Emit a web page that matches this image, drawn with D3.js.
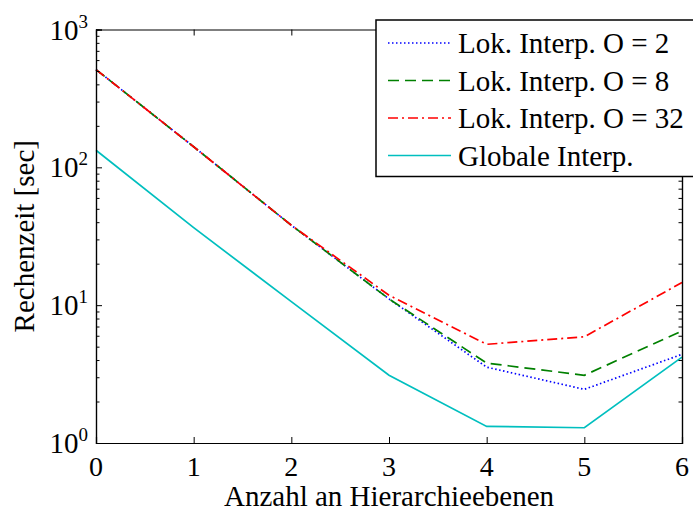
<!DOCTYPE html>
<html>
<head>
<meta charset="utf-8">
<script src="https://cdn.jsdelivr.net/npm/d3@7"></script>
<style>
  body { margin: 0; background: #fff; }
  svg { display: block; font-family: "Liberation Serif", "Times New Roman", serif; }
</style>
</head>
<body>
<div id="chart"></div>
<script>
var levels = [0, 1, 2, 3, 4, 5, 6]; // Anzahl an Hierarchieebenen
var lokO2 = [512, 141, 38, 11.1, 3.55, 2.45, 4.4];
var lokO8 = [512, 141, 38, 11.1, 3.8, 3.1, 6.5];
var lokO32 = [512, 141, 38, 11.8, 5.2, 5.9, 14.6];
var globale = [133, 36.5, 10.6, 3.1, 1.32, 1.29, 4.2];
var seriesNames = ["Lok. Interp. O = 2", "Lok. Interp. O = 8", "Lok. Interp. O = 32", "Globale Interp."];
var yTickExps = [0, 1, 2, 3];

var width = 693, height = 511;
var plotLeft = 96, plotRight = 682, plotTop = 29.5, plotBottom = 443;

var svg = d3.select("#chart").append("svg")
  .attr("width", width)
  .attr("height", height);

var x = d3.scaleLinear().domain([0, 6]).range([plotLeft, plotRight]);
var y = d3.scaleLog().domain([1, 1000]).range([plotBottom, plotTop]);

var series = [
  {name: seriesNames[0], values: lokO2, color: "#0000ff", dash: "1.5,2.5"},
  {name: seriesNames[1], values: lokO8, color: "#008000", dash: "11,6"},
  {name: seriesNames[2], values: lokO32, color: "#ff0000", dash: "10,4,2,4"},
  {name: seriesNames[3], values: globale, color: "#00bfbf", dash: null}
];

// lines
var line = d3.line()
  .x(function(d, i) { return x(levels[i]); })
  .y(function(d) { return y(d); });

svg.selectAll(".series")
  .data(series)
  .enter()
  .append("path")
  .attr("class", "series")
  .attr("d", function(s) { return line(s.values); })
  .attr("fill", "none")
  .attr("stroke", function(s) { return s.color; })
  .attr("stroke-width", 1.7)
  .attr("stroke-dasharray", function(s) { return s.dash; });

// box axes with inward ticks
var xAxisB = d3.axisBottom(x).tickValues(levels).tickSize(-6).tickFormat("");
var xAxisT = d3.axisTop(x).tickValues(levels).tickSize(-6).tickFormat("");
svg.append("g").attr("transform", "translate(0," + plotBottom + ")").call(xAxisB);
svg.append("g").attr("transform", "translate(0," + plotTop + ")").call(xAxisT);

var minorTicks = [];
for (var e = 0; e < 3; e++) {
  for (var m = 2; m <= 9; m++) minorTicks.push(m * Math.pow(10, e));
}
var majorTicks = yTickExps.map(function(p) { return Math.pow(10, p); });

svg.append("g").attr("transform", "translate(" + plotLeft + ",0)")
  .call(d3.axisLeft(y).tickValues(majorTicks).tickSize(-6).tickFormat(""));
svg.append("g").attr("transform", "translate(" + plotLeft + ",0)")
  .call(d3.axisLeft(y).tickValues(minorTicks).tickSize(-3.5).tickFormat(""));
svg.append("g").attr("transform", "translate(" + plotRight + ",0)")
  .call(d3.axisRight(y).tickValues(majorTicks).tickSize(-6).tickFormat(""));
svg.append("g").attr("transform", "translate(" + plotRight + ",0)")
  .call(d3.axisRight(y).tickValues(minorTicks).tickSize(-3.5).tickFormat(""));

svg.selectAll(".domain").attr("stroke", "#000").attr("stroke-width", 1.2);
svg.selectAll(".tick line").attr("stroke", "#000").attr("stroke-width", 1);

// x tick labels
svg.selectAll(".xlab")
  .data(levels)
  .enter()
  .append("text")
  .attr("class", "xlab")
  .attr("x", function(d) { return x(d); })
  .attr("y", 476)
  .attr("text-anchor", "middle")
  .attr("font-size", 28)
  .text(function(d) { return d; });

// y tick labels 10^n
var ylab = svg.selectAll(".ylab")
  .data(yTickExps)
  .enter()
  .append("text")
  .attr("class", "ylab")
  .attr("x", 88)
  .attr("y", function(d) { return y(Math.pow(10, d)) + 10; })
  .attr("text-anchor", "end")
  .attr("font-size", 29);
ylab.append("tspan").text("10");
ylab.append("tspan")
  .attr("font-size", 19)
  .attr("dy", -12)
  .text(function(d) { return d; });

// axis titles
svg.append("text")
  .attr("x", (plotLeft + plotRight) / 2)
  .attr("y", 506)
  .attr("text-anchor", "middle")
  .attr("font-size", 29)
  .text("Anzahl an Hierarchieebenen");

svg.append("text")
  .attr("transform", "translate(34," + ((plotTop + plotBottom) / 2) + ") rotate(-90)")
  .attr("text-anchor", "middle")
  .attr("font-size", 29)
  .text("Rechenzeit [sec]");

// legend
var legend = svg.append("g");
legend.append("rect")
  .attr("x", 376)
  .attr("y", 20)
  .attr("width", 330)
  .attr("height", 156.5)
  .attr("fill", "#fff")
  .attr("stroke", "#000")
  .attr("stroke-width", 1.5);

var rows = legend.selectAll(".row")
  .data(series)
  .enter()
  .append("g")
  .attr("class", "row")
  .attr("transform", function(d, i) { return "translate(0," + (43 + i * 37.5) + ")"; });

rows.append("line")
  .attr("x1", 388)
  .attr("x2", 451)
  .attr("stroke", function(s) { return s.color; })
  .attr("stroke-width", 1.7)
  .attr("stroke-dasharray", function(s) { return s.dash; });

rows.append("text")
  .attr("x", 458)
  .attr("y", 10)
  .attr("font-size", 29)
  .text(function(s) { return s.name; });
</script>
</body>
</html>
